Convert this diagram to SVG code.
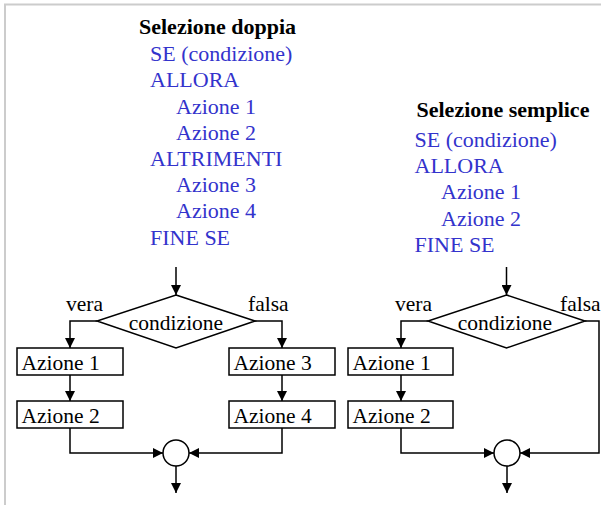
<svg xmlns="http://www.w3.org/2000/svg" width="601" height="505" viewBox="0 0 601 505">
<defs>
<marker id="ah" viewBox="0 0 10 10" refX="10" refY="5" markerWidth="10" markerHeight="10" markerUnits="userSpaceOnUse" orient="auto">
<path d="M0,0 L10,5 L0,10 Z" fill="#000"/>
</marker>
</defs>
<style>
.t{font-family:"Liberation Serif","Times New Roman","DejaVu Serif",serif;font-size:22px;font-weight:normal}
.title{font-weight:bold;fill:#000}
.blue{fill:#3333CC}
.lbl{font-family:"Liberation Serif","Times New Roman","DejaVu Serif",serif;font-size:21.5px;font-weight:normal;fill:#000}
.shape{fill:#fff;stroke:#000;stroke-width:1.5}
.ln{fill:none;stroke:#000;stroke-width:1.5}
.ar{fill:none;stroke:#000;stroke-width:1.5;marker-end:url(#ah)}
</style>
<rect width="601" height="505" fill="#fff"/>
<path d="M5,505 V4.5 H601" fill="none" stroke="#cccccc" stroke-width="2"/>

<g id="pseudo-doppia">
<text class="t title" x="139" y="33.5">Selezione doppia</text>
<text class="t blue" x="150" y="61">SE (condizione)</text>
<text class="t blue" x="150" y="87.3">ALLORA</text>
<text class="t blue" x="176" y="113.5">Azione 1</text>
<text class="t blue" x="176" y="139.5">Azione 2</text>
<text class="t blue" x="150" y="165.8">ALTRIMENTI</text>
<text class="t blue" x="176" y="192">Azione 3</text>
<text class="t blue" x="176" y="218.3">Azione 4</text>
<text class="t blue" x="150" y="244.5">FINE SE</text>
</g>

<g id="pseudo-semplice">
<text class="t title" x="416.5" y="117">Selezione semplice</text>
<text class="t blue" x="414.5" y="147">SE (condizione)</text>
<text class="t blue" x="414.5" y="173.3">ALLORA</text>
<text class="t blue" x="441" y="199.3">Azione 1</text>
<text class="t blue" x="441" y="225.5">Azione 2</text>
<text class="t blue" x="414.5" y="251.7">FINE SE</text>
</g>

<g id="connectors">
<line class="ar" x1="176" y1="267" x2="176" y2="295"/>
<polyline class="ar" points="97,321 70,321 70,348"/>
<polyline class="ar" points="255,321 282,321 282,348"/>
<line class="ar" x1="70" y1="375" x2="70" y2="401"/>
<line class="ar" x1="282" y1="375" x2="282" y2="401"/>
<polyline class="ar" points="70,428 70,453 163,453"/>
<polyline class="ar" points="282,428 282,453 189,453"/>
<line class="ar" x1="176" y1="466" x2="176" y2="493"/>

<line class="ar" x1="506.5" y1="267" x2="506.5" y2="295"/>
<polyline class="ar" points="428,321 401,321 401,348"/>
<line class="ar" x1="401" y1="375" x2="401" y2="401"/>
<polyline class="ar" points="401,428 401,453 494,453"/>
<polyline class="ar" points="585,321 599,321 599,453 520,453"/>
<line class="ar" x1="507" y1="466" x2="507" y2="493"/>
</g>

<g id="cond-doppia">
<polygon class="shape" points="176,295 255,321 176,348 97,321"/>
<text class="lbl" x="176" y="330" text-anchor="middle">condizione</text>
<text class="lbl" x="66" y="311">vera</text>
<text class="lbl" x="248" y="311">falsa</text>
</g>
<g id="d-azione1"><rect class="shape" x="17" y="348" width="106" height="27"/><text class="lbl" x="21.5" y="370">Azione 1</text></g>
<g id="d-azione2"><rect class="shape" x="17" y="401" width="106" height="27"/><text class="lbl" x="21.5" y="423">Azione 2</text></g>
<g id="d-azione3"><rect class="shape" x="229" y="348" width="106" height="27"/><text class="lbl" x="233.5" y="370">Azione 3</text></g>
<g id="d-azione4"><rect class="shape" x="229" y="401" width="106" height="27"/><text class="lbl" x="233.5" y="423">Azione 4</text></g>
<g id="d-join"><circle class="shape" cx="176" cy="453" r="13"/></g>

<g id="cond-semplice">
<polygon class="shape" points="506.5,295 585,321 506.5,348 428,321"/>
<text class="lbl" x="505" y="330" text-anchor="middle">condizione</text>
<text class="lbl" x="395" y="311">vera</text>
<text class="lbl" x="560" y="311">falsa</text>
</g>
<g id="s-azione1"><rect class="shape" x="348" y="348" width="105" height="27"/><text class="lbl" x="352.5" y="370">Azione 1</text></g>
<g id="s-azione2"><rect class="shape" x="348" y="401" width="105" height="27"/><text class="lbl" x="352.5" y="423">Azione 2</text></g>
<g id="s-join"><circle class="shape" cx="507" cy="453" r="13"/></g>
</svg>
